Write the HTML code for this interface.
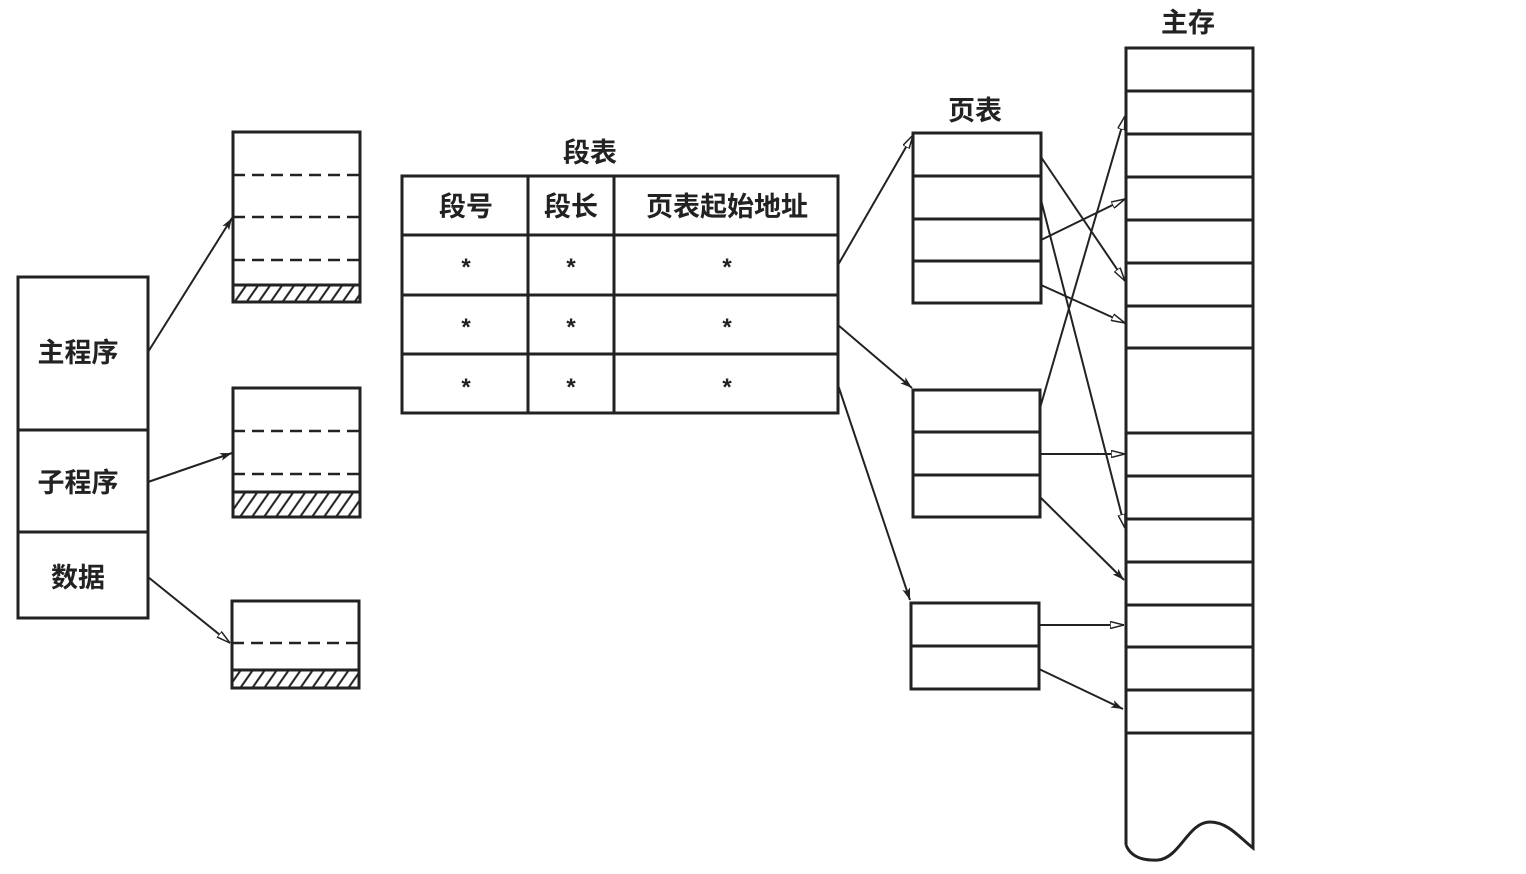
<!DOCTYPE html>
<html><head><meta charset="utf-8"><style>
html,body{margin:0;padding:0;background:#fff;}
svg{display:block;}
text{font-family:"Liberation Sans","Noto Sans CJK SC",sans-serif;fill:#222;font-weight:bold;}
</style></head><body>
<svg width="1526" height="874" viewBox="0 0 1526 874" xmlns="http://www.w3.org/2000/svg">
<defs>
<marker id="a" viewBox="0 0 12 8" refX="12" refY="4" markerWidth="12" markerHeight="8" markerUnits="userSpaceOnUse" orient="auto">
<path d="M0,0 L12,4 L0,8 L3,4 Z" fill="#222"/>
</marker>
<marker id="o" viewBox="0 0 14 8" refX="14" refY="4" markerWidth="14" markerHeight="8" markerUnits="userSpaceOnUse" orient="auto">
<path d="M0,0.5 L14,4 L0,7.5 Z" fill="#fff" stroke="#222" stroke-width="1.5"/>
</marker>
<pattern id="h" width="12" height="18" patternUnits="userSpaceOnUse" patternTransform="skewX(-35)">
<line x1="2" y1="0" x2="2" y2="18" stroke="#222" stroke-width="2.5"/>
</pattern>
</defs>
<g stroke="#222" stroke-width="3" fill="none">
<!-- left box -->
<rect x="18" y="277" width="130" height="341"/>
<line x1="18" y1="430" x2="148" y2="430"/>
<line x1="18" y1="532" x2="148" y2="532"/>
<!-- segments -->
<rect x="233" y="132" width="127" height="170"/>
<rect x="233" y="285" width="127" height="17" fill="url(#h)"/>
<rect x="233" y="388" width="127" height="129"/>
<rect x="233" y="492" width="127" height="25" fill="url(#h)"/>
<rect x="232" y="601" width="127" height="87"/>
<rect x="232" y="670" width="127" height="18" fill="url(#h)"/>
<g stroke-dasharray="12,7" stroke-width="2.5">
<line x1="233" y1="175" x2="360" y2="175"/>
<line x1="233" y1="217" x2="360" y2="217"/>
<line x1="233" y1="260" x2="360" y2="260"/>
<line x1="233" y1="431" x2="360" y2="431"/>
<line x1="233" y1="474" x2="360" y2="474"/>
<line x1="232" y1="643" x2="359" y2="643"/>
</g>
<!-- segment table -->
<rect x="402" y="176" width="436" height="237"/>
<line x1="402" y1="235" x2="838" y2="235"/>
<line x1="402" y1="295" x2="838" y2="295"/>
<line x1="402" y1="354" x2="838" y2="354"/>
<line x1="528" y1="176" x2="528" y2="413"/>
<line x1="614" y1="176" x2="614" y2="413"/>
<!-- page tables -->
<rect x="913" y="133" width="128" height="170"/>
<line x1="913" y1="176" x2="1041" y2="176"/>
<line x1="913" y1="219" x2="1041" y2="219"/>
<line x1="913" y1="261" x2="1041" y2="261"/>
<rect x="913" y="390" width="127" height="127"/>
<line x1="913" y1="432" x2="1040" y2="432"/>
<line x1="913" y1="475" x2="1040" y2="475"/>
<rect x="911" y="603" width="128" height="86"/>
<line x1="911" y1="646" x2="1039" y2="646"/>
<!-- main memory -->
<path d="M1126,845 L1126,48 L1253,48 L1253,848 C1240,838 1228,822 1210,822 C1188,822 1180,858 1158,860 C1140,861 1130,855 1126,845"/>
<g>
<line x1="1126" y1="91" x2="1253" y2="91"/><line x1="1126" y1="134" x2="1253" y2="134"/>
<line x1="1126" y1="177" x2="1253" y2="177"/><line x1="1126" y1="220" x2="1253" y2="220"/>
<line x1="1126" y1="263" x2="1253" y2="263"/><line x1="1126" y1="306" x2="1253" y2="306"/>
<line x1="1126" y1="348" x2="1253" y2="348"/><line x1="1126" y1="433" x2="1253" y2="433"/>
<line x1="1126" y1="476" x2="1253" y2="476"/><line x1="1126" y1="519" x2="1253" y2="519"/>
<line x1="1126" y1="562" x2="1253" y2="562"/><line x1="1126" y1="605" x2="1253" y2="605"/>
<line x1="1126" y1="647" x2="1253" y2="647"/><line x1="1126" y1="690" x2="1253" y2="690"/>
<line x1="1126" y1="733" x2="1253" y2="733"/>
</g>
</g>
<g stroke="#222" stroke-width="2" fill="none">
<line x1="148" y1="352" x2="232" y2="218" marker-end="url(#a)"/>
<line x1="148" y1="482" x2="232" y2="453" marker-end="url(#a)"/>
<line x1="148" y1="577" x2="230" y2="643" marker-end="url(#o)"/>
<line x1="838" y1="265" x2="913" y2="135" marker-end="url(#o)"/>
<line x1="838" y1="325" x2="912" y2="388" marker-end="url(#a)"/>
<line x1="838" y1="385" x2="910" y2="600" marker-end="url(#a)"/>
<line x1="1041" y1="157" x2="1125" y2="281" marker-end="url(#o)"/>
<line x1="1041" y1="200" x2="1125" y2="528" marker-end="url(#o)"/>
<line x1="1041" y1="240" x2="1125" y2="199" marker-end="url(#o)"/>
<line x1="1041" y1="285" x2="1125" y2="323" marker-end="url(#o)"/>
<line x1="1040" y1="408" x2="1125" y2="116" marker-end="url(#o)"/>
<line x1="1040" y1="454" x2="1125" y2="454" marker-end="url(#o)"/>
<line x1="1040" y1="497" x2="1124" y2="580" marker-end="url(#a)"/>
<line x1="1039" y1="625" x2="1124" y2="625" marker-end="url(#o)"/>
<line x1="1039" y1="669" x2="1123" y2="709" marker-end="url(#a)"/>
</g>
<g font-size="27" text-anchor="middle">
<text x="78" y="362">主程序</text>
<text x="78" y="492">子程序</text>
<text x="78" y="587">数据</text>
<text x="590" y="162">段表</text>
<text x="975" y="120">页表</text>
<text x="1188" y="32">主存</text>
<text x="466" y="216">段号</text>
<text x="571" y="216">段长</text>
<text x="727" y="216">页表起始地址</text>
</g>
<g font-size="24" text-anchor="middle">
<text x="466" y="275">*</text><text x="571" y="275">*</text><text x="727" y="275">*</text>
<text x="466" y="335">*</text><text x="571" y="335">*</text><text x="727" y="335">*</text>
<text x="466" y="395">*</text><text x="571" y="395">*</text><text x="727" y="395">*</text>
</g>
</svg>
</body></html>
